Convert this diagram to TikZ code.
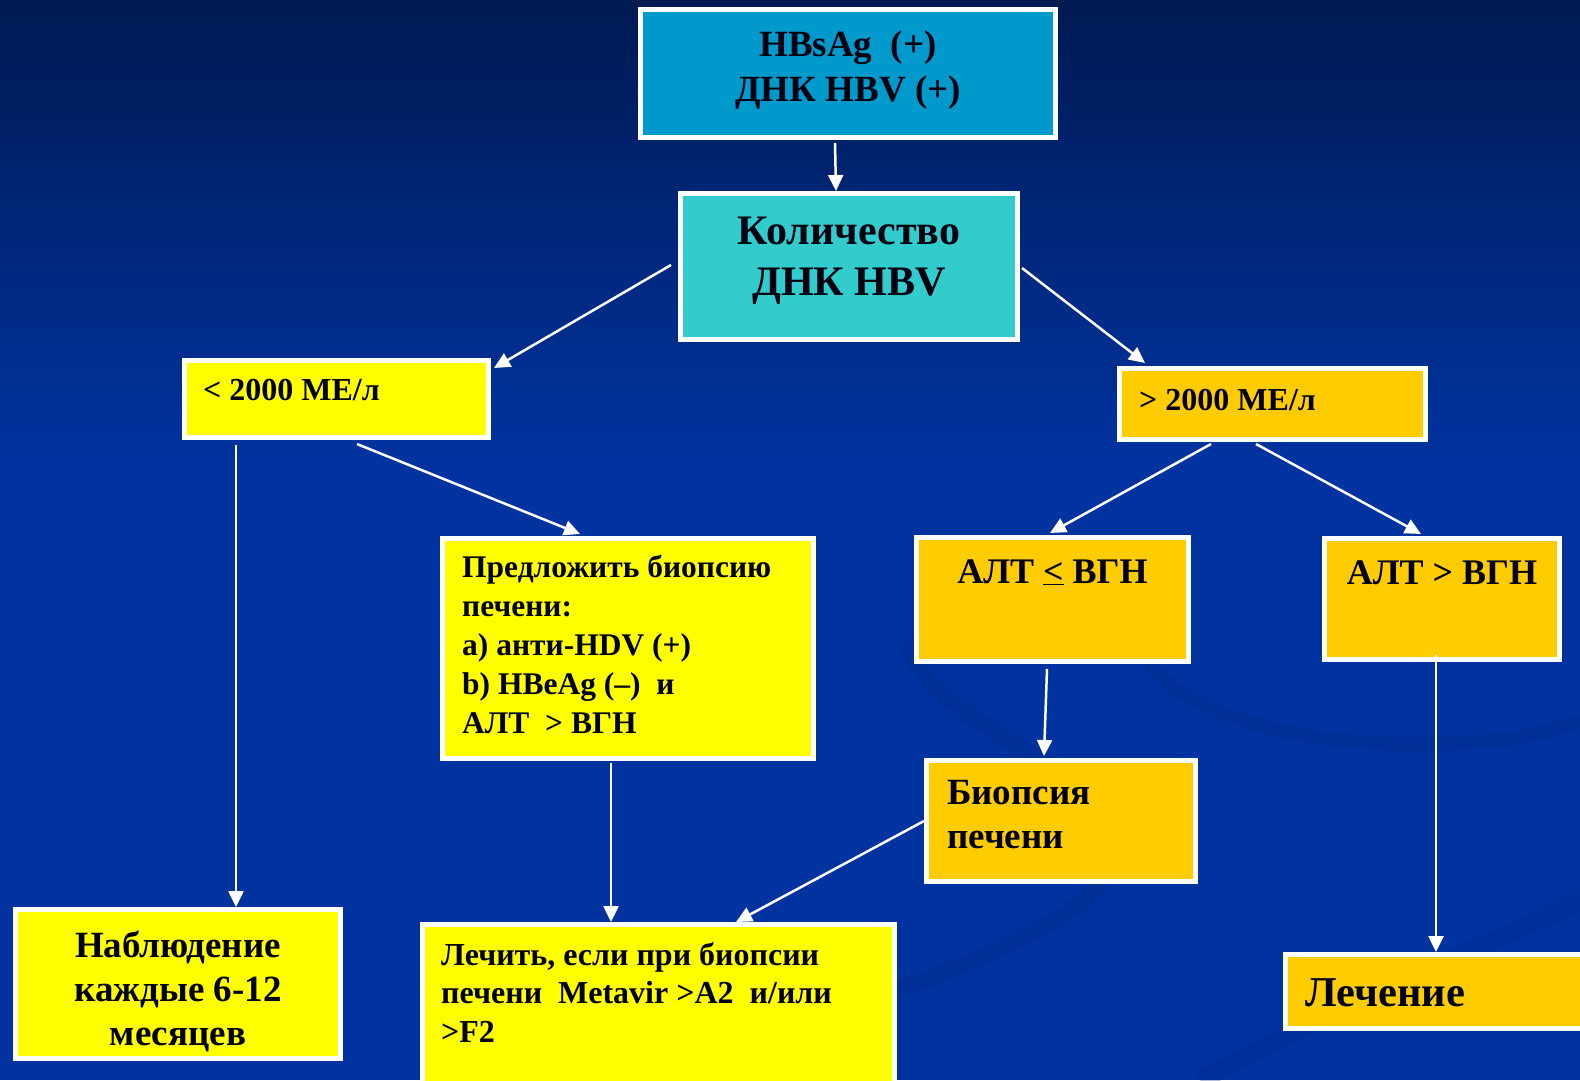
\documentclass[tikz,border=0pt]{standalone}
\usepackage{fontspec}
\setmainfont{Liberation Serif}
\usetikzlibrary{arrows.meta,calc}

\definecolor{bgtop}{HTML}{001A52}
\definecolor{bgmain}{HTML}{0033A0}
\definecolor{bgswirl}{HTML}{00298A}
\definecolor{hbsblue}{HTML}{0099CC}
\definecolor{dnkteal}{HTML}{33CCCC}
\definecolor{lowyellow}{HTML}{FFFF00}
\definecolor{highorange}{HTML}{FFCC00}
\definecolor{ink}{HTML}{000010}

\begin{document}
\begin{tikzpicture}[x=1pt,y=-1pt]
\tikzstyle{box} = [rectangle, draw=white, line width=5pt, inner sep=0pt]
\tikzstyle{txt} = [inner sep=0pt, text=ink]
\tikzstyle{link} = [draw=white, line width=2.5pt, -{Triangle[width=15pt,length=16pt]}]

% background
\useasboundingbox (0,0) rectangle (1580,1080);
\clip (0,0) rectangle (1580,1080);
\shade[top color=bgtop, bottom color=bgmain] (0,0) rectangle (1580,460);
\fill[bgmain] (0,459) rectangle (1580,1080);
\draw[bgswirl, line width=18pt, opacity=0.35] (905,640) .. controls (940,740) and (1120,760) .. (1110,860) .. controls (1100,930) and (900,990) .. (640,1080);
\draw[bgswirl, line width=14pt, opacity=0.35] (1140,650) .. controls (1200,760) and (1500,760) .. (1580,720);
\draw[bgswirl, line width=20pt, opacity=0.3] (1200,1080) .. controls (1350,1000) and (1480,950) .. (1580,900);

% boxes
\node[box, fill=hbsblue, minimum width=415pt, minimum height=128pt] (test) at (848,73.5) {};
\node[box, fill=dnkteal, minimum width=337pt, minimum height=146pt] (count) at (849,266.5) {};
\node[box, fill=lowyellow, minimum width=304pt, minimum height=77pt] (low) at (336.5,399) {};
\node[box, fill=highorange, minimum width=306pt, minimum height=71pt] (high) at (1272.5,404) {};
\node[box, fill=lowyellow, minimum width=371pt, minimum height=220pt] (offer) at (628,648.5) {};
\node[box, fill=highorange, minimum width=272pt, minimum height=124pt] (altlow) at (1052.5,599.5) {};
\node[box, fill=highorange, minimum width=235pt, minimum height=121pt] (althigh) at (1442,599) {};
\node[box, fill=highorange, minimum width=269pt, minimum height=121pt] (biopsy) at (1061,821) {};
\node[box, fill=lowyellow, minimum width=325pt, minimum height=149pt] (observe) at (178,984) {};
\node[box, fill=lowyellow, minimum width=472pt, minimum height=163pt] (treatif) at (658.5,1006) {};
\node[box, fill=highorange, minimum width=312pt, minimum height=74pt] (treat) at (1441.5,991.5) {};

% texts
\node[txt, align=center, font=\bfseries\fontsize{37}{45}\selectfont] (testtext) at (848,70) {HBsAg\ \ (+)\\ДНК HBV (+)};
\node[txt, align=center, font=\bfseries\fontsize{42}{51}\selectfont] (counttext) at (849,261) {Количество\\ДНК HBV};
\node[txt, anchor=base west, font=\bfseries\fontsize{32}{38}\selectfont] (lowtext) at (203,400) {< 2000 МЕ/л};
\node[txt, anchor=base west, font=\bfseries\fontsize{32}{38}\selectfont] (hightext) at (1139,410) {> 2000 МЕ/л};
\node[txt, anchor=base west, align=left, font=\bfseries\fontsize{31.5}{38.8}\selectfont] (offertext) at (462,733) {Предложить биопсию\\печени:\\a) анти-HDV (+)\\b) HBeAg (–)\ \ и\\АЛТ\ \ > ВГН};
\node[txt, anchor=base, font=\bfseries\fontsize{36}{42}\selectfont] (altlowtext) at (1052.5,583) {АЛТ \underline{<} ВГН};
\node[txt, anchor=base, font=\bfseries\fontsize{36}{42}\selectfont] (althightext) at (1442,584) {АЛТ > ВГН};
\node[txt, anchor=base west, align=left, font=\bfseries\fontsize{37}{44}\selectfont] (biopsytext) at (947,848) {Биопсия\\печени};
\node[txt, anchor=base, align=center, font=\bfseries\fontsize{37}{44}\selectfont] (observetext) at (178,1045) {Наблюдение\\каждые 6-12\\месяцев};
\node[txt, anchor=base west, align=left, font=\bfseries\fontsize{32}{38.5}\selectfont] (treatiftext) at (441,1042) {Лечить, если при биопсии\\печени\ \ Metavir >A2\ \ и/или\\>F2};
\node[txt, anchor=base west, font=\bfseries\fontsize{42.5}{48}\selectfont] (treattext) at (1305,1006) {Лечение};

% connectors
\draw[link] ($(test.south)+(-13,3)$) -- ($(count.north)+(-13,0)$);
\draw[link] ($(count.west)+(-7,-1.5)$) -- ($(low.north east)+(3,10)$);
\draw[link] ($(count.east)+(2,1.5)$) -- ($(high.north west)+(28,-3)$);
\draw[link] ($(low.south west)+(54,5)$) -- ($(observe.north west)+(223,0)$);
\draw[link] ($(low.south)+(20.5,4)$) -- ($(offer.north)+(-48,-2)$);
\draw[link] ($(high.south)+(-61.5,2)$) -- ($(altlow.north)+(-2.5,-2)$);
\draw[link] ($(high.south)+(-16.5,2)$) -- ($(althigh.north)+(-21,-2)$);
\draw[link] ($(altlow.south)+(-5.5,5)$) -- ($(biopsy.north)+(-17,-2)$);
\draw[link] ($(offer.south)+(-17,2)$) -- ($(treatif.north)+(-47.5,0)$);
\draw[link] (biopsy.west) -- ($(treatif.north)+(77.5,0)$);
\draw[link] ($(althigh.south)+(-6,-7)$) -- ($(treat.north)+(-5.5,0)$);
\end{tikzpicture}
\end{document}
